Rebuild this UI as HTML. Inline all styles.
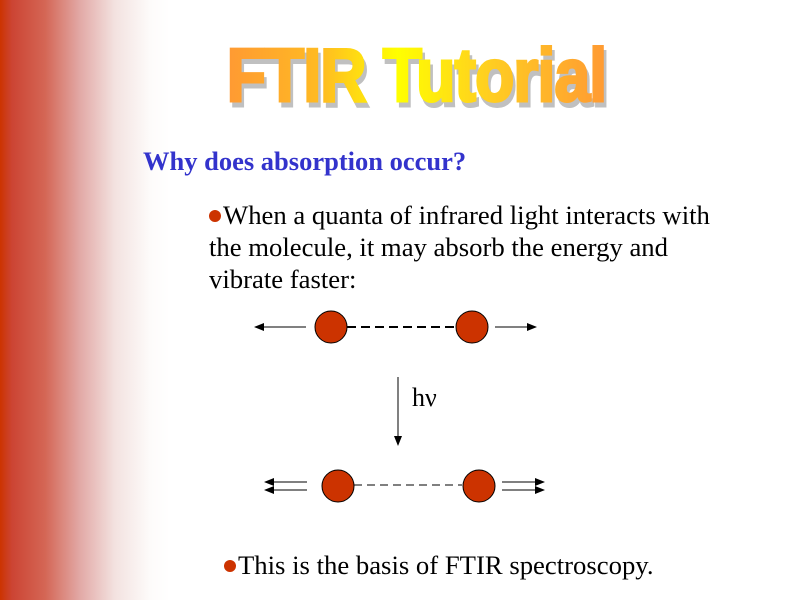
<!DOCTYPE html>
<html><head><meta charset="utf-8"><style>
html,body{margin:0;padding:0}
body{width:800px;height:600px;position:relative;overflow:hidden;background:#fff;font-family:"Liberation Serif",serif}
#bar{position:absolute;left:0;top:0;width:170px;height:600px;background:linear-gradient(to right,#cc3300 0px,#cc4433 12px,#d46655 45px,#e2a9a6 80px,#f3e2e0 115px,#fdfbfa 150px,#fff 170px)}
.title{position:absolute;left:225px;top:38px;font-family:"Liberation Sans",sans-serif;font-weight:bold;font-size:75px;letter-spacing:-1px;line-height:1;transform:scaleX(0.855);transform-origin:left top}
.title .sh{position:absolute;left:5px;top:5px;color:#c0c0c0;white-space:nowrap;-webkit-text-stroke:3px #c0c0c0}
.title .fg{position:relative;white-space:nowrap;background:linear-gradient(to right,#ff9933 0%,#ffbb22 25%,#ffff00 45%,#ffcc22 70%,#ff9933 100%);-webkit-background-clip:text;background-clip:text;color:transparent;-webkit-text-stroke:3px transparent}
.t{position:absolute;white-space:nowrap}
.b{display:inline-block;width:12px;height:12px;border-radius:50%;background:#cc3300;margin-right:2px;vertical-align:2px}
</style></head><body>
<div id="bar"></div>
<div class="title"><span class="sh">FTIR Tutorial</span><span class="fg" style="padding:0 2px">FTIR Tutorial</span></div>
<div class="t" style="left:143px;top:146px;font-size:26.5px;font-weight:bold;color:#3333cc">Why does absorption occur?</div>
<div class="t" style="left:209px;top:199px;font-size:26.7px;line-height:32px;color:#000"><span class="b"></span>When a quanta of infrared light interacts with<br>the molecule, it may absorb the energy and<br>vibrate faster:</div>
<div class="t" style="left:224px;top:550px;font-size:26.7px;color:#000"><span class="b"></span>This is the basis of FTIR spectroscopy.</div>
<svg width="800" height="600" style="position:absolute;left:0;top:0">
<defs><marker id="a" markerWidth="10" markerHeight="8" refX="9" refY="4" orient="auto" markerUnits="userSpaceOnUse"><path d="M0,0L10,4L0,8z" fill="#000"/></marker></defs>
<g stroke="#000" fill="none">
<line x1="347" y1="327" x2="456" y2="327" stroke-width="2" stroke-dasharray="9,5"/>
<line x1="306" y1="327" x2="255" y2="327" marker-end="url(#a)"/>
<line x1="495" y1="327" x2="536" y2="327" marker-end="url(#a)"/>
<line x1="398" y1="377" x2="398" y2="445" marker-end="url(#a)"/>
<line x1="354" y1="485" x2="462" y2="485" stroke-dasharray="8,5"/>
<line x1="307" y1="482" x2="265" y2="482" marker-end="url(#a)"/>
<line x1="307" y1="490" x2="265" y2="490" marker-end="url(#a)"/>
<line x1="502" y1="482" x2="544" y2="482" marker-end="url(#a)"/>
<line x1="502" y1="490" x2="544" y2="490" marker-end="url(#a)"/>
</g>
<g fill="#cc3300" stroke="#000">
<circle cx="331" cy="327" r="16"/><circle cx="472" cy="327" r="16"/>
<circle cx="338" cy="486" r="16"/><circle cx="479" cy="486" r="16"/>
</g>
<text x="412" y="406" font-family="Liberation Serif,serif" font-size="26">hν</text>
</svg>
</body></html>
